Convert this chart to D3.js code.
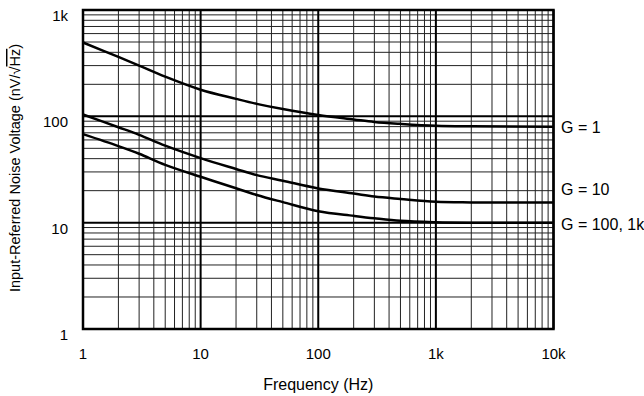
<!DOCTYPE html>
<html><head><meta charset="utf-8">
<script src="https://cdn.jsdelivr.net/npm/d3@7"></script>
<style>body{margin:0;background:#fff}svg{display:block}text{font-family:"Liberation Sans",Arial,sans-serif;fill:#000}</style>
</head><body>
<svg id="c" width="644" height="396"></svg>
<script>
const freq = [1,2,3,5,10,20,30,50,100,200,300,500,1000,2000,10000];
const g1   = [495,362,300,236,178,146,131,117,103,93.6,88.6,85,81.5,80.5,80];
const g10  = [104,79,67,53,40.5,32,28,24.8,21,18.8,17.6,16.7,15.7,15.5,15.5];
const g100 = [68,52.5,44.5,35,27,21.1,18.2,15.6,12.8,11.6,11,10.4,10.1,10,10];
const seriesLabels = ["G = 1","G = 10","G = 100, 1k"];
const xTicks = [1,10,100,1000,10000];
const xTickLabels = ["1","10","100","1k","10k"];
const yTicks = [1,10,100,1000];
const yTickLabels = ["1","10","100","1k"];

const svg = d3.select("#c");
const x = d3.scaleLog().domain([1,10000]).range([83,553.5]);
const y = d3.scaleLog().domain([1,1000]).range([329,10]);

// minor grid
const minorX = [], minorY = [];
for (let d=1; d<10000; d*=10) for (let k=2;k<=9;k++) minorX.push(d*k);
for (let d=1; d<1000; d*=10) for (let k=2;k<=9;k++) minorY.push(d*k);
const g = svg.append("g");
g.selectAll(".mx").data(minorX).join("line")
  .attr("x1",d=>x(d)).attr("x2",d=>x(d)).attr("y1",y(1)).attr("y2",y(1000))
  .attr("stroke","#222").attr("stroke-width",1);
g.selectAll(".my").data(minorY).join("line")
  .attr("y1",d=>y(d)).attr("y2",d=>y(d)).attr("x1",x(1)).attr("x2",x(10000))
  .attr("stroke","#222").attr("stroke-width",1);
// major grid
g.selectAll(".Mx").data(xTicks).join("line")
  .attr("x1",d=>x(d)).attr("x2",d=>x(d)).attr("y1",y(1)).attr("y2",y(1000))
  .attr("stroke","#000").attr("stroke-width",2);
g.selectAll(".My").data(yTicks).join("line")
  .attr("y1",d=>y(d)).attr("y2",d=>y(d)).attr("x1",x(1)).attr("x2",x(10000))
  .attr("stroke","#000").attr("stroke-width",2);
// frame
svg.append("rect").attr("x",x(1)).attr("y",y(1000))
  .attr("width",x(10000)-x(1)).attr("height",y(1)-y(1000))
  .attr("fill","none").attr("stroke","#000").attr("stroke-width",2.5);

// curves
const line = d3.line().x(d=>x(d[0])).y(d=>y(d[1])).curve(d3.curveCatmullRom.alpha(0.5));
[g1,g10,g100].forEach(s=>{
  svg.append("path").datum(freq.map((f,i)=>[f,s[i]])).attr("d",line)
    .attr("fill","none").attr("stroke","#000").attr("stroke-width",2.5);
});

// tick labels
svg.selectAll(".xt").data(xTicks).join("text")
  .attr("x",d=>x(d)).attr("y",359).attr("text-anchor","middle")
  .attr("font-size",15).text((d,i)=>xTickLabels[i]);
svg.selectAll(".yt").data(yTicks).join("text")
  .attr("x",68).attr("y",d=>y(d)+11).attr("text-anchor","end")
  .attr("font-size",15).text((d,i)=>yTickLabels[i]);

// series labels
const labelBase = [132.5, 195, 230];
svg.selectAll(".sl").data(seriesLabels).join("text")
  .attr("x",561).attr("y",(d,i)=>labelBase[i]).attr("font-size",16).text(d=>d);

// axis titles
svg.append("text").attr("x",(x(1)+x(10000))/2).attr("y",390).attr("text-anchor","middle")
  .attr("font-size",16).text("Frequency (Hz)");
const yt = svg.append("text").attr("transform","translate(20,168) rotate(-90)")
  .attr("text-anchor","middle").attr("font-size",14.5);
yt.append("tspan").text("Input-Referred Noise Voltage (nV/√");
yt.append("tspan").style("text-decoration","overline").text("Hz");
yt.append("tspan").text(")");
</script>
</body></html>
